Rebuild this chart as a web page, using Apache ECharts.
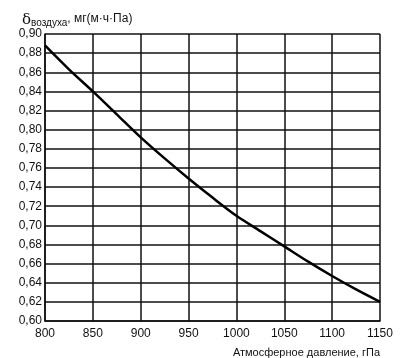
<!DOCTYPE html>
<html><head><meta charset="utf-8">
<script src="https://cdn.jsdelivr.net/npm/echarts@6/dist/echarts.min.js"></script>
<style>html,body{margin:0;padding:0;background:#fff}#c{width:408px;height:358px}</style>
</head><body><div id="c"></div>
<script>
const pressure = [800, 825, 850, 875, 900, 925, 950, 975, 1000, 1025, 1050, 1075, 1100, 1125, 1150];
const delta = [0.888, 0.863, 0.840, 0.816, 0.792, 0.770, 0.749, 0.729, 0.710, 0.694, 0.678, 0.662, 0.647, 0.633, 0.620];
const xTitle = 'Атмосферное давление, гПа';
const yTitleMain = 'δ';
const yTitleSub = 'воздуха';
const yTitleRest = ', мг(м·ч·Па)';

const chart = echarts.init(document.getElementById('c'), null, {renderer: 'canvas'});
const font = 'Liberation Sans, Arial, sans-serif';
chart.setOption({
  animation: false,
  backgroundColor: '#fff',
  title: {
    text: '{d|' + yTitleMain + '}{s|' + yTitleSub + '}{r|' + yTitleRest + '}',
    left: 17, top: 5,
    textStyle: {
      fontWeight: 'normal',
      rich: {
        d: {fontFamily: 'DejaVu Serif, serif', fontSize: 15, fontWeight: 'normal', color: '#111', verticalAlign: 'bottom'},
        s: {fontFamily: font, fontSize: 10, fontWeight: 'normal', color: '#111', padding: [8, 0, 0, 0]},
        r: {fontFamily: font, fontSize: 12, fontWeight: 'normal', color: '#111'}
      }
    }
  },
  grid: {left: 45, right: 28, top: 34, bottom: 37},
  xAxis: {
    type: 'value', min: 800, max: 1150, interval: 50,
    name: xTitle, nameLocation: 'end', nameGap: 0,
    nameTextStyle: {fontFamily: font, fontSize: 11, color: '#111', align: 'right', verticalAlign: 'top', padding: [26, 0, 0, 0]},
    axisLine: {show: true, lineStyle: {color: '#111', width: 1.5}},
    axisTick: {show: false},
    axisLabel: {fontFamily: font, fontSize: 12, color: '#111', margin: 7, formatter: v => String(v)},
    splitLine: {show: true, lineStyle: {color: '#111', width: 1.5}}
  },
  yAxis: {
    type: 'value', min: 0.60, max: 0.90, interval: 0.02,
    axisLine: {show: true, lineStyle: {color: '#111', width: 1.5}},
    axisTick: {show: false},
    axisLabel: {fontFamily: font, fontSize: 12, color: '#111', margin: 3,
      formatter: v => v.toFixed(2).replace('.', ',')},
    splitLine: {show: true, lineStyle: {color: '#111', width: 1.5}}
  },
  series: [{
    type: 'line', smooth: 0.3, symbol: 'none',
    data: pressure.map((p, i) => [p, delta[i]]),
    lineStyle: {color: '#000', width: 2.5}
  }]
});
</script></body></html>
